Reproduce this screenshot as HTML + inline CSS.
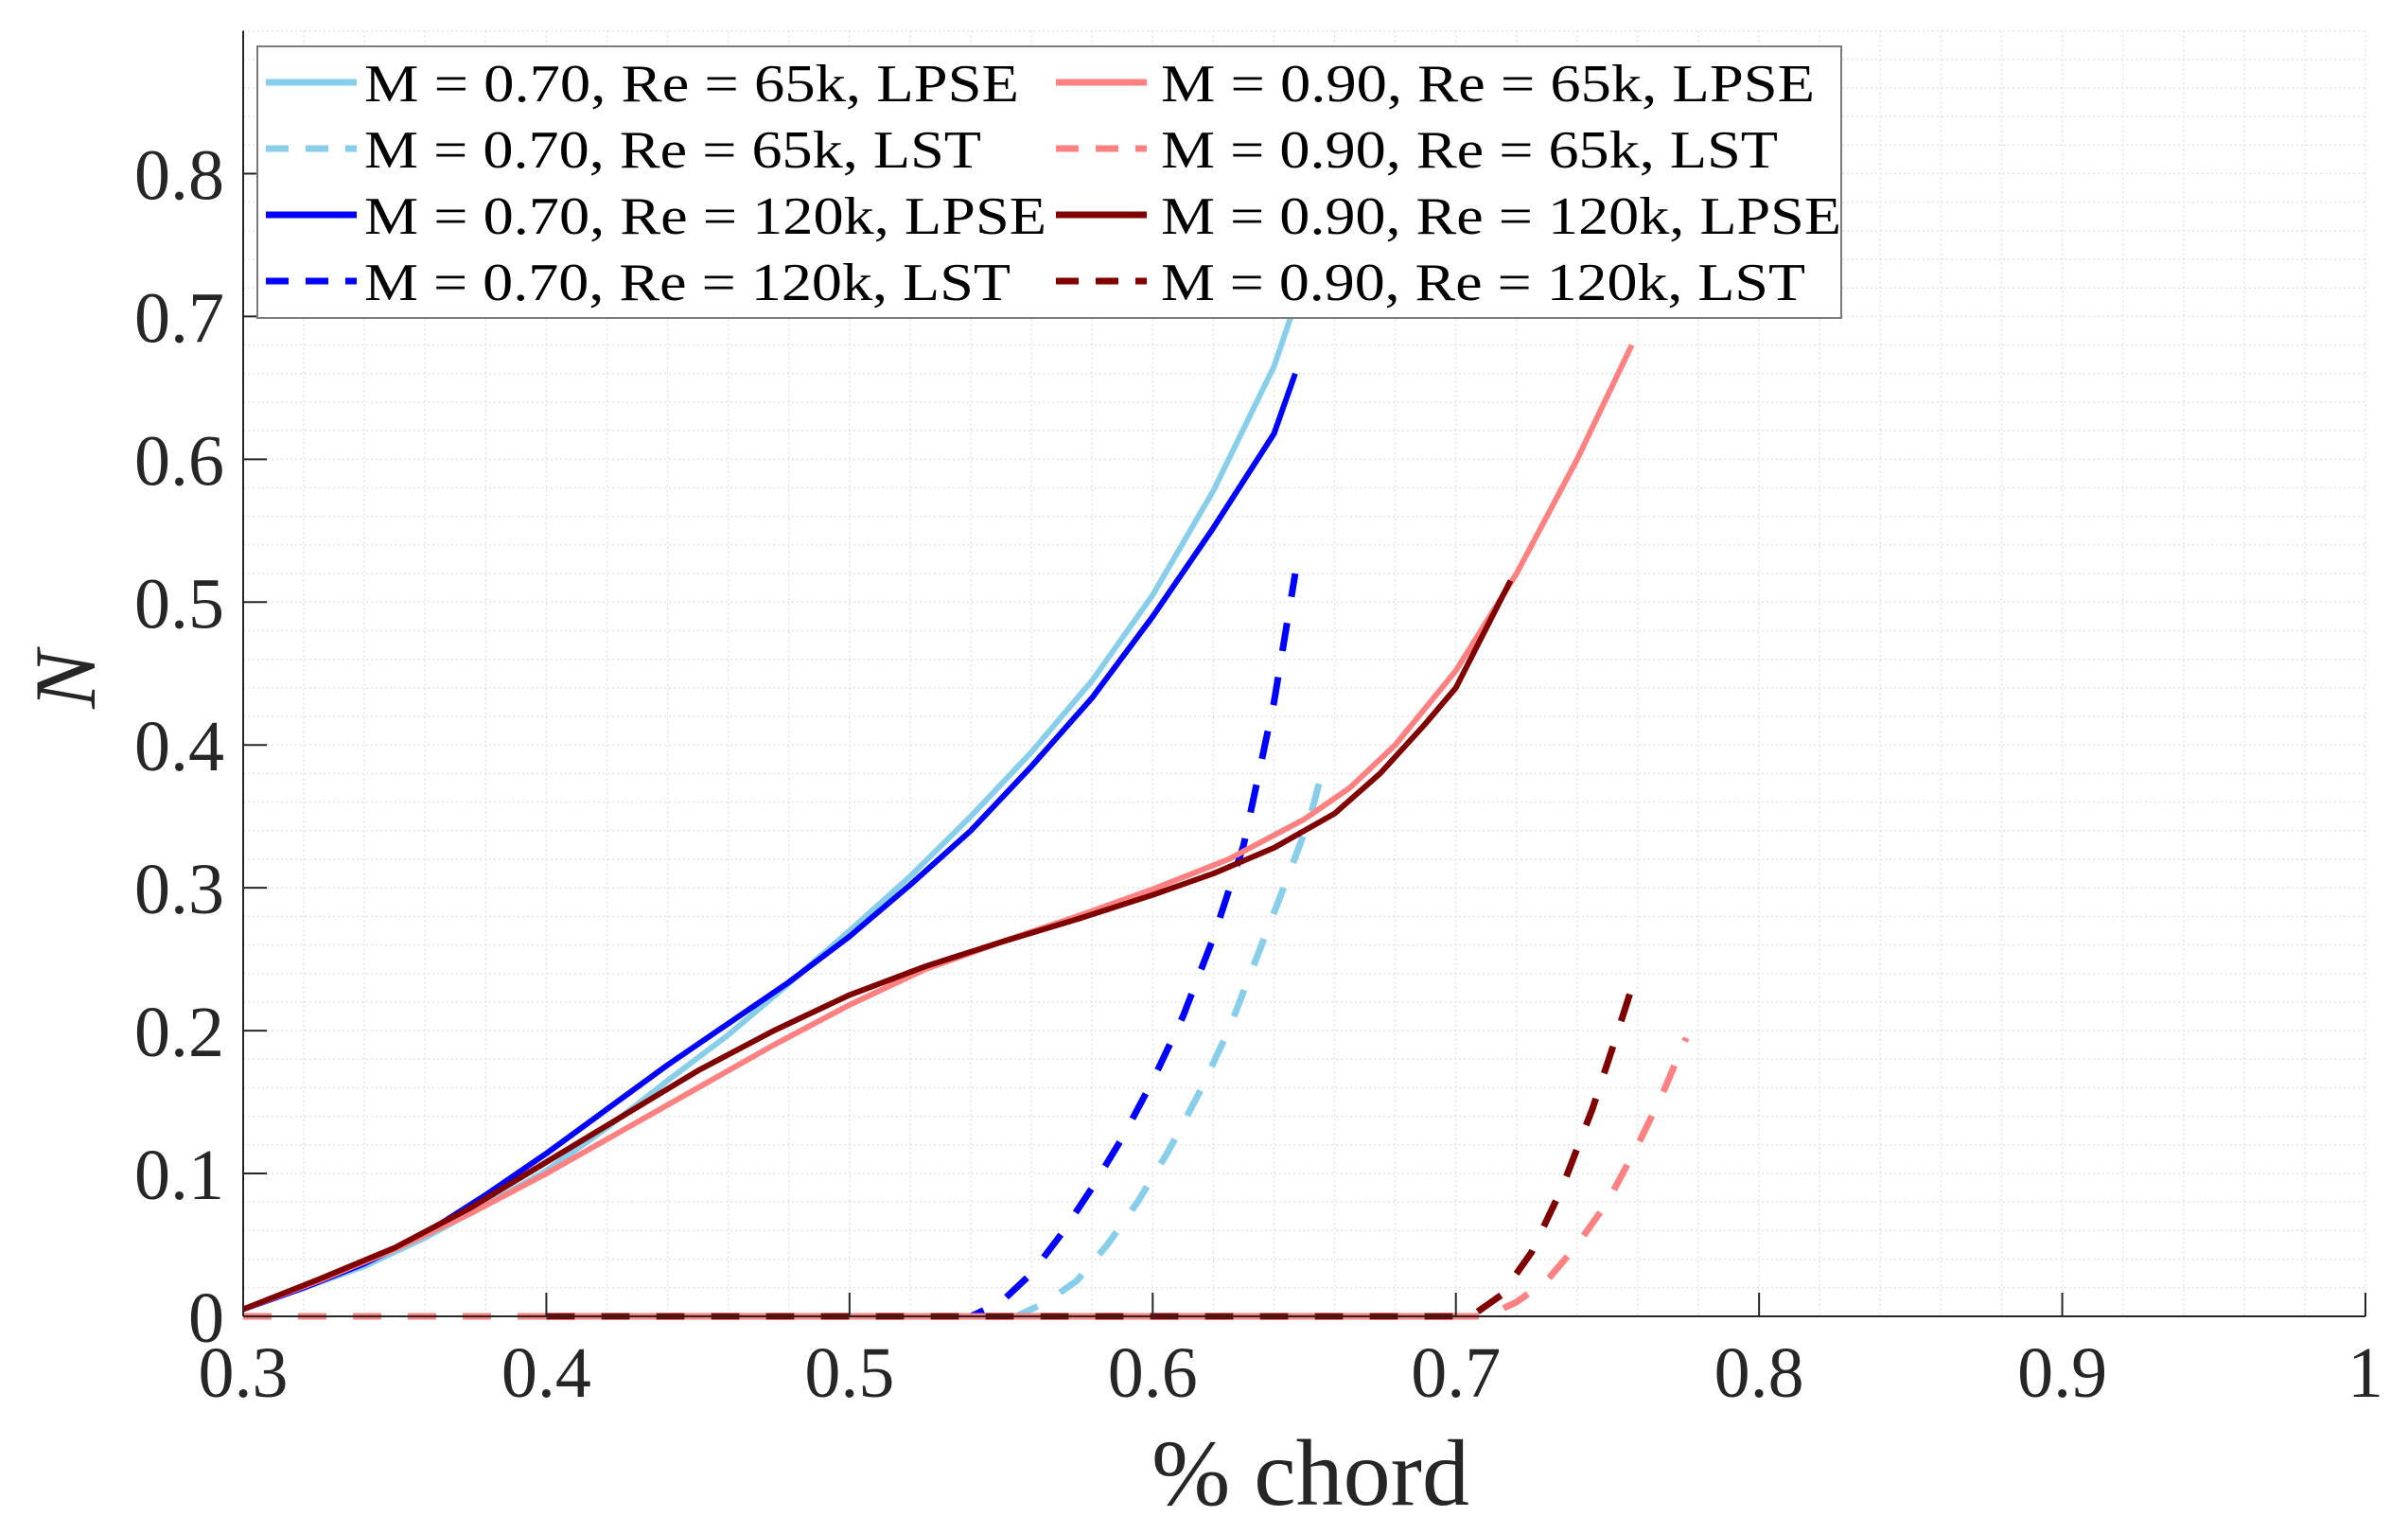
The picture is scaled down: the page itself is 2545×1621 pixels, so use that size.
<!DOCTYPE html>
<html><head><meta charset="utf-8"><style>
html,body{margin:0;padding:0;background:#fff;}
svg{display:block;}
text{font-family:"Liberation Serif",serif;}
</style></head><body>
<svg id="chart" width="2545" height="1621" viewBox="0 0 2545 1621" xmlns="http://www.w3.org/2000/svg">
<g id="grid"></g>
<g id="series"></g>
<g id="axes"></g>
<g id="legend"></g>
</svg>
<script>
const xTicks=[0.3,0.4,0.5,0.6,0.7,0.8,0.9,1];
const xTickLabels=["0.3","0.4","0.5","0.6","0.7","0.8","0.9","1"];
const yTicks=[0,0.1,0.2,0.3,0.4,0.5,0.6,0.7,0.8];
const yTickLabels=["0","0.1","0.2","0.3","0.4","0.5","0.6","0.7","0.8"];

const lbLpseX=[0.3,0.32,0.34,0.36,0.38,0.40,0.42,0.44,0.46,0.48,0.50,0.52,0.54,0.56,0.58,0.60,0.62,0.64,0.648];
const lbLpseY=[0.005,0.02,0.035,0.055,0.078,0.102,0.132,0.165,0.197,0.233,0.27,0.308,0.35,0.395,0.445,0.505,0.578,0.665,0.715];
const bLpseX=[0.3,0.32,0.34,0.36,0.38,0.40,0.42,0.44,0.46,0.48,0.50,0.52,0.54,0.56,0.58,0.60,0.62,0.64,0.647];
const bLpseY=[0.005,0.02,0.037,0.058,0.085,0.114,0.145,0.176,0.205,0.234,0.266,0.302,0.34,0.385,0.433,0.49,0.552,0.618,0.66];
const pLpseX=[0.3,0.325,0.35,0.375,0.4,0.425,0.45,0.475,0.5,0.525,0.55,0.575,0.6,0.625,0.65,0.665,0.68,0.7,0.72,0.74,0.758];
const pLpseY=[0.005,0.025,0.047,0.072,0.1,0.13,0.16,0.19,0.218,0.243,0.262,0.28,0.299,0.32,0.348,0.37,0.4,0.452,0.52,0.6,0.68];
const rLpseX=[0.3,0.325,0.35,0.375,0.4,0.425,0.45,0.475,0.5,0.525,0.55,0.575,0.6,0.62,0.64,0.66,0.675,0.69,0.70,0.718];
const rLpseY=[0.005,0.026,0.048,0.076,0.108,0.14,0.172,0.2,0.225,0.245,0.262,0.278,0.295,0.31,0.328,0.352,0.38,0.415,0.44,0.515];
const bLstX=[0.3,0.54,0.55,0.56,0.57,0.58,0.59,0.60,0.61,0.62,0.63,0.64,0.647];
const bLstY=[0,0,0.01,0.03,0.058,0.09,0.125,0.165,0.21,0.265,0.33,0.43,0.52];
const lbLstX=[0.3,0.555,0.565,0.575,0.585,0.595,0.605,0.615,0.625,0.635,0.645,0.652,0.657];
const lbLstY=[0,0,0.01,0.025,0.05,0.08,0.115,0.155,0.2,0.255,0.31,0.35,0.39];
const rLstX=[0.4,0.705,0.715,0.725,0.735,0.745,0.752,0.758];
const rLstY=[0,0,0.015,0.045,0.09,0.145,0.19,0.23];
const pLstX=[0.3,0.71,0.72,0.73,0.74,0.75,0.76,0.768,0.776];
const pLstY=[0,0,0.01,0.025,0.05,0.08,0.12,0.155,0.195];

const X0=257,X1=2500,Y0=1391,YT=32.5;
const xs=v=>X0+(v-0.3)/0.7*(X1-X0);
const ys=v=>Y0-v/0.9*(Y0-YT);
const NS="http://www.w3.org/2000/svg";
function mk(tag,parent,attrs){const e=document.createElementNS(NS,tag);for(const k in attrs)e.setAttribute(k,attrs[k]);parent.appendChild(e);return e;}

const grid=document.getElementById('grid');
for(let v=0.3;v<=1.0001;v+=0.02){
  const l=mk('line',grid,{x1:xs(v),x2:xs(v),y1:YT,y2:Y0,stroke:'#e3e3e3','stroke-width':1.5,'stroke-dasharray':'2 3'});
  
  
}
for(let v=0;v<=0.9001;v+=0.02){
  const l=mk('line',grid,{x1:X0,x2:X1,y1:ys(v),y2:ys(v),stroke:'#e3e3e3','stroke-width':1.5,'stroke-dasharray':'2 3'});
  
  
}

const ser=document.getElementById('series');
function series(xa,ya,color,dashed,name){
  let d='';for(let i=0;i<xa.length;i++)d+=(i?'L':'M')+xs(xa[i]).toFixed(1)+' '+ys(ya[i]).toFixed(1);
  const p=mk('path',ser,{d:d,fill:'none',stroke:color,'stroke-width':dashed?7:6,'stroke-linejoin':'round'});
  if(dashed)p.setAttribute('stroke-dasharray','30 28');
  
  
}
series(lbLstX,lbLstY,'#87ceeb',true,'m070-re65k-lst-line');
series(bLstX,bLstY,'#0000ff',true,'m070-re120k-lst-line');
series(pLstX,pLstY,'#ff8080',true,'m090-re65k-lst-line');
series(rLstX,rLstY,'#800000',true,'m090-re120k-lst-line');
series(lbLpseX,lbLpseY,'#87ceeb',false,'m070-re65k-lpse-line');
series(bLpseX,bLpseY,'#0000ff',false,'m070-re120k-lpse-line');
series(pLpseX,pLpseY,'#ff8080',false,'m090-re65k-lpse-line');
series(rLpseX,rLpseY,'#800000',false,'m090-re120k-lpse-line');

const ax=document.getElementById('axes');
let e=mk('line',ax,{x1:X0,x2:X0,y1:YT,y2:Y0,stroke:'#262626','stroke-width':2});

e=mk('line',ax,{x1:X0,x2:X1,y1:Y0,y2:Y0,stroke:'#262626','stroke-width':2});

xTicks.forEach((v,i)=>{
  const t=mk('line',ax,{x1:xs(v),x2:xs(v),y1:Y0,y2:Y0-25,stroke:'#262626','stroke-width':2});
  
  
  const tx=mk('text',ax,{x:xs(v),y:1476,'text-anchor':'middle','font-size':76,fill:'#262626'});
  tx.textContent=xTickLabels[i];
  
  
});
yTicks.forEach((v,i)=>{
  const t=mk('line',ax,{x1:X0,x2:X0+25,y1:ys(v),y2:ys(v),stroke:'#262626','stroke-width':2});
  
  
  const tx=mk('text',ax,{x:237,y:ys(v)+27,'text-anchor':'end','font-size':76,fill:'#262626'});
  tx.textContent=yTickLabels[i];
  
  
});
e=mk('text',ax,{x:1385,y:1590,'text-anchor':'middle','font-size':100,fill:'#262626'});
e.textContent='% chord';

e=mk('text',ax,{x:0,y:0,'text-anchor':'middle','font-size':92,'font-style':'italic',fill:'#262626',transform:'translate(100,718) rotate(-90)'});
e.textContent='N';


const lg=document.getElementById('legend');
e=mk('rect',lg,{x:272,y:49,width:1674,height:287,fill:'#fff',stroke:'#7a7a7a','stroke-width':2});

const legLabels=["M = 0.70, Re = 65k, LPSE","M = 0.70, Re = 65k, LST","M = 0.70, Re = 120k, LPSE","M = 0.70, Re = 120k, LST","M = 0.90, Re = 65k, LPSE","M = 0.90, Re = 65k, LST","M = 0.90, Re = 120k, LPSE","M = 0.90, Re = 120k, LST"];
const legColors=['#87ceeb','#87ceeb','#0000ff','#0000ff','#ff8080','#ff8080','#800000','#800000'];
const legWidths=[692,652,721,683,691,652,719,681];
const rowsY=[87,157,227,297];
legLabels.forEach((lab,i)=>{
  const col=i<4?0:1,row=i%4;
  const lx=col?1116:281, tx0=col?1227:385, y=rowsY[row];
  const ln=mk('line',lg,{x1:lx,x2:lx+96,y1:y,y2:y,stroke:legColors[i],'stroke-width':7});
  if(row%2===1)ln.setAttribute('stroke-dasharray','24 18');
  
  
  const t=mk('text',lg,{x:tx0,y:y+20,'font-size':56,fill:'#000',textLength:legWidths[i],lengthAdjust:'spacingAndGlyphs'});
  t.textContent=lab;
  
  
});
</script>
</body></html>
